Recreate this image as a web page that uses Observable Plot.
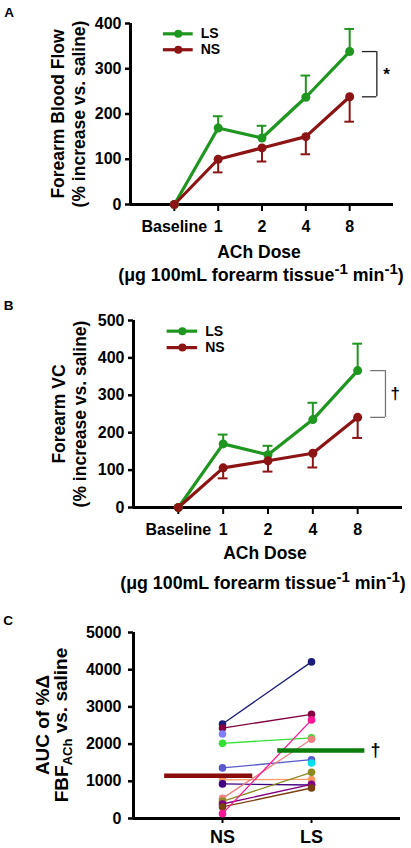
<!DOCTYPE html>
<html><head><meta charset="utf-8">
<script src="https://cdn.jsdelivr.net/npm/d3@7"></script>
<script src="https://cdn.jsdelivr.net/npm/@observablehq/plot@0.6"></script>
<style>
html,body{margin:0;padding:0;background:#fff;}
#wrap{position:relative;width:411px;height:848px;font-family:"Liberation Sans",Arial,sans-serif;font-weight:bold;color:#000;overflow:hidden}
.sub{position:absolute;white-space:nowrap;font-size:17.8px;line-height:20px;transform:translateX(-50%)}
.sub sup{font-size:0.85em;vertical-align:0;position:relative;top:-0.45em;line-height:0}
</style></head><body><div id="wrap"></div>
<script>
// ---------- data ----------
const doses = ["Baseline", "1", "2", "4", "8"];
const groups = ["LS", "NS"];
const groupColors = ["#1f961f", "#8c1414"];

const fbfLS = [0, 169, 147, 237, 338];
const fbfLSsem = [0, 26, 27, 48, 50];
const fbfNS = [0, 100, 125, 150, 238];
const fbfNSsem = [0, 29, 30, 39, 55];

const vcLS = [0, 170, 141, 235, 366];
const vcLSsem = [0, 25, 24, 45, 72];
const vcNS = [0, 106, 125, 145, 241];
const vcNSsem = [0, 28, 29, 38, 55];

const aucGroups = ["NS", "LS"];
const subjectColors = ["#1c1c7a", "#800040", "#8080ff", "#33e033", "#5a5acc", "#00e0f0", "#ff9966", "#400080", "#f08080", "#8a8a20", "#800080", "#7a4010", "#ff1493"];
const aucNS = [2540, 2430, 2270, 2020, 1360, null, 1040, 930, 540, 460, 390, 310, 130];
const aucLS = [4210, 2800, null, 2170, 1580, 1490, 1050, 900, 2130, 1240, 920, 820, 2650];
const aucMeans = [1150, 1830];
const aucMeanColors = ["#8b0a0a", "#0a7d0a"];

const FONT = '"Liberation Sans", Arial, sans-serif';
const wrap = document.getElementById("wrap");

function place(el, top) {
  el.style.position = "absolute";
  el.style.left = "0px";
  el.style.top = top + "px";
  wrap.appendChild(el);
}
function sub(html, cx, cy) {
  const d = document.createElement("div");
  d.className = "sub";
  d.innerHTML = html;
  d.style.left = cx + "px";
  d.style.top = (cy - 10) + "px";
  wrap.appendChild(d);
}

function linePanel(o) {
  const series = [[o.ls, o.lsSem, +1], [o.ns, o.nsSem, -1]];
  const rows = [];
  series.forEach(([m, s, dir], g) => doses.forEach((d, i) => rows.push({group: groups[g], color: groupColors[g], i, mean: m[i], sem: s[i], dir})));
  const err = rows.filter(d => d.sem > 0);
  const cap = 0.11;
  const last = doses.length - 1;
  const bracket = [{top: o.ls[last], bottom: o.ns[last]}];
  const bx1 = last + 0.29, bx2 = last + 0.62;
  const legend = groups.map((g, k) => ({group: g, color: groupColors[k], y: o.yMax * (k === 0 ? 0.943 : 0.855)}));
  const bold = {fontWeight: "bold"};
  return Plot.plot({
    width: 411, height: o.height,
    marginTop: o.marginTop, marginBottom: o.marginBottom, marginLeft: o.marginLeft, marginRight: o.marginRight,
    style: {fontFamily: FONT, fontWeight: "bold", color: "#000", background: "white"},
    x: {domain: [-1, 5]},
    y: {domain: [0, o.yMax]},
    color: {type: "identity"},
    marks: [
      Plot.axisY({ticks: o.yTicks, tickSize: 5, tickPadding: 4, strokeWidth: 2.5, fontSize: 16, label: null, ...bold}),
      Plot.axisX({ticks: d3.range(doses.length), tickFormat: i => doses[i], tickSize: 7, tickPadding: 9, strokeWidth: 2, fontSize: 16, label: null, ...bold}),
      Plot.ruleY([0], {strokeWidth: 3}),
      Plot.ruleX([-1], {strokeWidth: 3}),
      // error bars
      Plot.ruleX(err, {x: "i", y1: "mean", y2: d => d.mean + d.dir * d.sem, stroke: "color", strokeWidth: 2}),
      Plot.ruleY(err, {y: d => d.mean + d.dir * d.sem, x1: d => d.i - cap, x2: d => d.i + cap, stroke: "color", strokeWidth: 2}),
      // lines and points
      Plot.line(rows, {x: "i", y: "mean", z: "group", stroke: "color", strokeWidth: 3.2}),
      Plot.dot(rows, {x: "i", y: "mean", fill: "color", r: 4.5}),
      // legend
      Plot.ruleY(legend, {y: "y", x1: -0.25, x2: 0.43, stroke: "color", strokeWidth: 3.2}),
      Plot.dot(legend, {x: 0.09, y: "y", fill: "color", r: 4}),
      Plot.text(legend, {x: 0.6, y: "y", text: "group", textAnchor: "start", fontSize: 14, ...bold}),
      // significance bracket
      Plot.ruleX(bracket, {x: bx2, y1: "top", y2: "bottom", stroke: o.bracketColor, strokeWidth: 1.3}),
      Plot.ruleY(bracket, {y: "top", x1: bx1, x2: bx2, stroke: o.bracketColor, strokeWidth: 1.3}),
      Plot.ruleY(bracket, {y: "bottom", x1: bx1, x2: bx2, stroke: o.bracketColor, strokeWidth: 1.3}),
      Plot.text(bracket, {x: last + 0.84, y: d => (d.top + d.bottom) / 2, text: () => o.sig, fontSize: 17, ...bold}),
      // titles
      Plot.text([o.yTitle1], {frameAnchor: "left", rotate: -90, dx: o.t1dx, textAnchor: "middle", lineAnchor: "middle", fontSize: 17.5, ...bold}),
      Plot.text([o.yTitle2], {frameAnchor: "left", rotate: -90, dx: o.t2dx, textAnchor: "middle", lineAnchor: "middle", fontSize: 17.5, ...bold}),
      Plot.text(["ACh Dose"], {frameAnchor: "bottom", dy: o.xTitleDy, dx: -3, lineAnchor: "middle", fontSize: 17.5, ...bold}),
      Plot.text([o.label], {frameAnchor: "top-left", dx: o.labelDx, dy: o.labelDy, lineAnchor: "middle", textAnchor: "middle", fontSize: 13.5, ...bold})
    ]
  });
}

const plotA = linePanel({
  ls: fbfLS, lsSem: fbfLSsem, ns: fbfNS, nsSem: fbfNSsem, yMax: 400, yTicks: [0, 100, 200, 300, 400],
  yTitle1: "Forearm Blood Flow", yTitle2: "(% increase vs. saline)", t1dx: -72, t2dx: -51,
  sig: "*", bracketColor: "#222", label: "A",
  height: 262, marginTop: 23, marginBottom: 58, marginLeft: 130, marginRight: 18,
  xTitleDy: 48, labelDx: -121.5, labelDy: -10.5
});
place(plotA, 0);
sub("(μg 100mL forearm tissue<sup>-1</sup> min<sup>-1</sup>)", 261, 275);

const plotB = linePanel({
  ls: vcLS, lsSem: vcLSsem, ns: vcNS, nsSem: vcNSsem, yMax: 500, yTicks: [0, 100, 200, 300, 400, 500],
  yTitle1: "Forearm VC", yTitle2: "(% increase vs. saline)", t1dx: -74, t2dx: -53.5,
  sig: "†", bracketColor: "#777", label: "B",
  height: 275, marginTop: 30, marginBottom: 58, marginLeft: 133, marginRight: 9,
  xTitleDy: 46, labelDx: -125, labelDy: -15
});
place(plotB, 290);
sub("(μg 100mL forearm tissue<sup>-1</sup> min<sup>-1</sup>)", 263, 583);

// ---------- panel C ----------
const subjects = subjectColors.map((c, k) => ({color: c, ns: aucNS[k], ls: aucLS[k]}));
const paired = subjects.filter(d => d.ns != null && d.ls != null);
const nsPts = subjects.filter(d => d.ns != null);
const lsPts = subjects.filter(d => d.ls != null);
const means = aucGroups.map((g, k) => ({group: g, value: aucMeans[k], color: aucMeanColors[k], pos: k + 1}));
const meanSpan = [[-0.65, 0.34], [-0.38, 0.6]];

const plotC = Plot.plot({
  width: 411, height: 248,
  marginTop: 32, marginBottom: 30, marginLeft: 133, marginRight: 11,
  style: {fontFamily: FONT, fontWeight: "bold", color: "#000", background: "white"},
  x: {domain: [0, 3]},
  y: {domain: [0, 5000]},
  color: {type: "identity"},
  marks: [
    Plot.axisY({ticks: [0, 1000, 2000, 3000, 4000, 5000], tickFormat: d => String(d), tickSize: 5, tickPadding: 7, strokeWidth: 2.5, fontSize: 16, fontWeight: "bold", label: null}),
    Plot.axisX({ticks: [1, 2], tickFormat: i => aucGroups[i - 1], tickSize: 5, tickPadding: 7, strokeWidth: 2, fontSize: 18, fontWeight: "bold", label: null}),
    Plot.ruleY([0], {strokeWidth: 3}),
    Plot.ruleX([0], {strokeWidth: 3}),
    Plot.link(paired, {x1: () => 1, x2: () => 2, y1: "ns", y2: "ls", stroke: "color", strokeWidth: 1.3}),
    Plot.dot(nsPts, {x: () => 1, y: "ns", fill: "color", r: 3.8}),
    Plot.dot(lsPts, {x: () => 2, y: "ls", fill: "color", r: 3.8}),
    Plot.ruleY(means, {y: "value", x1: (d, k) => d.pos + meanSpan[k][0], x2: (d, k) => d.pos + meanSpan[k][1], stroke: "color", strokeWidth: 4.5}),
    Plot.text(means.filter(d => d.group === "LS"), {x: d => d.pos + 0.72, y: "value", text: () => "†", fontSize: 18, fontWeight: "bold"}),
    Plot.text(["C"], {frameAnchor: "top-left", dx: -125.5, dy: -12, lineAnchor: "middle", textAnchor: "middle", fontSize: 13.5, fontWeight: "bold"})
  ]
});
place(plotC, 600);

// y-axis title with subscript for panel C
const svgC = d3.select(plotC);
const cy = 125;
svgC.append("text")
  .attr("transform", `translate(42,${cy}) rotate(-90)`)
  .attr("text-anchor", "middle").attr("dy", "0.35em")
  .attr("font-size", 19).attr("font-weight", "bold").attr("fill", "#000")
  .text("AUC of %Δ");
const t2 = svgC.append("text")
  .attr("transform", `translate(61,${cy}) rotate(-90)`)
  .attr("text-anchor", "middle").attr("dy", "0.35em")
  .attr("font-size", 19).attr("font-weight", "bold").attr("fill", "#000");
t2.append("tspan").text("FBF");
t2.append("tspan").attr("font-size", 13).attr("dy", "0.35em").text("ACh");
t2.append("tspan").attr("dy", "-0.25em").text(" vs. saline");
</script></body></html>
